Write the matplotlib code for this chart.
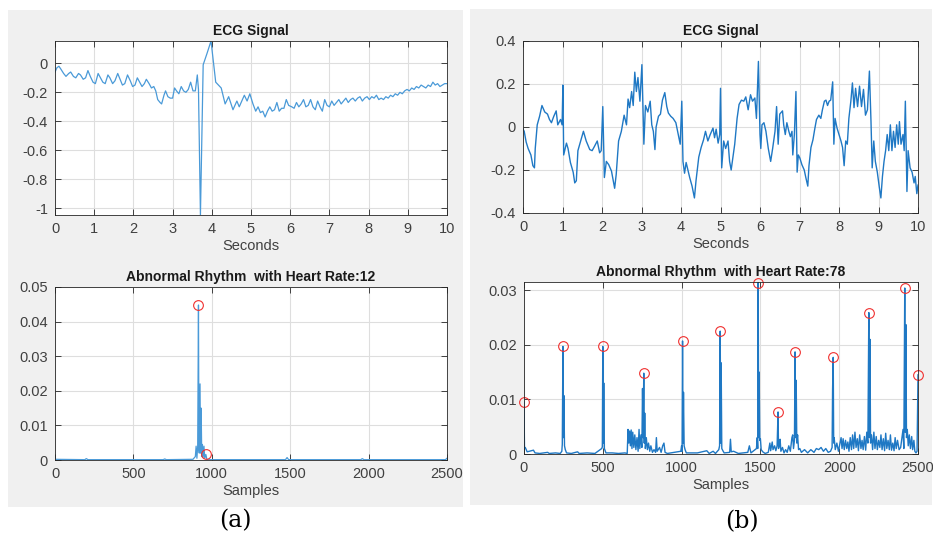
import numpy as np
import matplotlib
matplotlib.use("Agg")
from matplotlib import pyplot as plt
from matplotlib.patches import Rectangle
from matplotlib.ticker import FuncFormatter

# ---- (a) ECG signal, seconds / amplitude
ecg_a_t = [0.00, 0.05, 0.10, 0.15, 0.22, 0.28, 0.35, 0.40, 0.47, 0.53, 0.60, 0.65, 0.72, 0.78,
           0.84, 0.90, 0.97, 1.03, 1.10, 1.16, 1.22, 1.28, 1.35, 1.40, 1.47, 1.53, 1.60, 1.66,
           1.72, 1.78, 1.85, 1.92, 1.98, 2.04, 2.10, 2.16, 2.22, 2.28, 2.33, 2.40, 2.46, 2.52,
           2.57, 2.62, 2.68, 2.72, 2.78, 2.82, 2.88, 2.94, 3.00, 3.05, 3.10, 3.16, 3.22, 3.28,
           3.34, 3.40, 3.46, 3.52, 3.58, 3.63, 3.66, 3.71, 3.74, 3.78, 3.88, 3.98, 4.10, 4.17,
           4.24, 4.34, 4.43, 4.54, 4.64, 4.70, 4.83, 4.90, 4.97, 5.05, 5.12, 5.18, 5.24, 5.30,
           5.36, 5.42, 5.48, 5.54, 5.60, 5.66, 5.72, 5.78, 5.84, 5.90, 5.96, 6.04, 6.10, 6.16,
           6.22, 6.28, 6.34, 6.40, 6.46, 6.52, 6.58, 6.64, 6.70, 6.76, 6.82, 6.88, 6.94, 7.00,
           7.06, 7.12, 7.18, 7.24, 7.30, 7.36, 7.42, 7.48, 7.54, 7.60, 7.66, 7.72, 7.78, 7.84,
           7.90, 7.96, 8.02, 8.08, 8.14, 8.20, 8.26, 8.32, 8.38, 8.44, 8.50, 8.56, 8.62, 8.68,
           8.74, 8.80, 8.86, 8.92, 8.98, 9.04, 9.10, 9.16, 9.22, 9.28, 9.34, 9.40, 9.46, 9.52,
           9.58, 9.64, 9.70, 9.76, 9.82, 9.88, 9.94, 10.0]
ecg_a_v = [-0.06, -0.03, -0.02, -0.04, -0.07, -0.09, -0.07, -0.06, -0.09, -0.10, -0.07, -0.08, -0.11, -0.10,
           -0.05, -0.09, -0.13, -0.14, -0.07, -0.10, -0.13, -0.14, -0.08, -0.10, -0.14, -0.12, -0.07, -0.11,
           -0.15, -0.14, -0.08, -0.12, -0.16, -0.15, -0.10, -0.13, -0.16, -0.14, -0.11, -0.14, -0.17, -0.16,
           -0.19, -0.25, -0.27, -0.28, -0.22, -0.19, -0.23, -0.24, -0.24, -0.17, -0.19, -0.21, -0.16, -0.19,
           -0.20, -0.18, -0.13, -0.19, -0.19, -0.08, -0.18, -1.046, -0.60, -0.01, 0.07, 0.154, -0.13, -0.15,
           -0.17, -0.28, -0.23, -0.32, -0.26, -0.30, -0.22, -0.26, -0.21, -0.28, -0.33, -0.30, -0.34, -0.33,
           -0.37, -0.33, -0.30, -0.33, -0.32, -0.27, -0.33, -0.31, -0.31, -0.25, -0.29, -0.30, -0.31, -0.27,
           -0.30, -0.28, -0.25, -0.30, -0.29, -0.25, -0.30, -0.32, -0.26, -0.30, -0.33, -0.25, -0.29, -0.30,
           -0.26, -0.29, -0.27, -0.25, -0.28, -0.26, -0.24, -0.27, -0.25, -0.24, -0.26, -0.24, -0.23, -0.26,
           -0.24, -0.23, -0.25, -0.23, -0.24, -0.22, -0.25, -0.24, -0.25, -0.23, -0.24, -0.22, -0.23, -0.21,
           -0.22, -0.20, -0.21, -0.19, -0.18, -0.19, -0.17, -0.18, -0.16, -0.17, -0.15, -0.16, -0.17, -0.15,
           -0.16, -0.13, -0.15, -0.14, -0.16, -0.15, -0.14, -0.14]

# ---- (b) ECG signal
ecg_b_t = [0.00, 0.03, 0.08, 0.13, 0.20, 0.25, 0.29, 0.31, 0.36, 0.42, 0.48, 0.55, 0.62, 0.67, 0.72,
           0.78, 0.84, 0.88, 0.95, 0.99, 1.01, 1.03, 1.10, 1.14, 1.20, 1.27, 1.31, 1.35, 1.39, 1.46,
           1.53, 1.60, 1.69, 1.75, 1.81, 1.88, 1.94, 1.98, 2.02, 2.06, 2.11, 2.17, 2.24, 2.32, 2.36,
           2.42, 2.49, 2.56, 2.62, 2.66, 2.70, 2.75, 2.79, 2.83, 2.87, 2.91, 2.96, 3.01, 3.06, 3.10,
           3.16, 3.22, 3.26, 3.30, 3.34, 3.37, 3.43, 3.48, 3.53, 3.59, 3.64, 3.68, 3.74, 3.80, 3.87,
           3.93, 3.98, 4.02, 4.05, 4.09, 4.13, 4.18, 4.22, 4.28, 4.34, 4.38, 4.45, 4.51, 4.57, 4.62,
           4.68, 4.74, 4.81, 4.85, 4.89, 4.94, 4.98, 5.00, 5.03, 5.08, 5.13, 5.19, 5.23, 5.27, 5.31,
           5.36, 5.42, 5.47, 5.53, 5.59, 5.64, 5.70, 5.76, 5.81, 5.87, 5.91, 5.96, 6.00, 6.02, 6.05,
           6.10, 6.15, 6.21, 6.27, 6.32, 6.38, 6.42, 6.46, 6.50, 6.57, 6.60, 6.64, 6.68, 6.73, 6.77,
           6.81, 6.83, 6.87, 6.91, 6.94, 6.97, 7.01, 7.06, 7.12, 7.16, 7.21, 7.24, 7.29, 7.34, 7.39,
           7.43, 7.49, 7.54, 7.58, 7.63, 7.67, 7.71, 7.75, 7.79, 7.84, 7.87, 7.90, 7.95, 8.00, 8.05,
           8.09, 8.13, 8.17, 8.21, 8.25, 8.30, 8.34, 8.38, 8.42, 8.47, 8.52, 8.57, 8.62, 8.67, 8.72,
           8.77, 8.81, 8.84, 8.88, 8.92, 8.97, 9.02, 9.06, 9.10, 9.14, 9.18, 9.22, 9.26, 9.30, 9.34,
           9.38, 9.42, 9.46, 9.50, 9.53, 9.57, 9.62, 9.65, 9.68, 9.72, 9.75, 9.80, 9.85, 9.90, 9.93,
           9.97, 10.0]
ecg_b_v = [-0.01, -0.02, -0.07, -0.10, -0.13, -0.18, -0.19, -0.10, 0.01, 0.05, 0.10, 0.07, 0.06, 0.035, 0.02,
           0.05, 0.075, 0.01, 0.035, 0.01, 0.195, -0.13, -0.075, -0.10, -0.165, -0.21, -0.26, -0.25, -0.11, -0.065,
           -0.02, -0.065, -0.105, -0.11, -0.09, -0.065, -0.12, -0.11, 0.095, -0.235, -0.16, -0.175, -0.205, -0.285, -0.22,
           -0.065, -0.02, 0.055, 0.01, 0.13, 0.09, 0.165, 0.10, 0.255, 0.165, 0.23, 0.12, 0.29, -0.08, 0.10,
           0.07, 0.12, 0.01, -0.02, -0.105, 0.00, 0.05, 0.06, 0.125, 0.16, 0.095, 0.065, 0.05, 0.04, 0.02,
           -0.035, -0.08, 0.12, -0.16, -0.215, -0.165, -0.205, -0.235, -0.275, -0.33, -0.25, -0.14, -0.095, -0.06, -0.02,
           -0.065, -0.035, -0.005, -0.05, -0.01, -0.075, -0.035, 0.18, -0.19, -0.065, -0.10, -0.065, -0.16, -0.20, -0.145,
           -0.08, 0.04, 0.105, 0.125, 0.12, 0.14, 0.08, 0.15, 0.12, 0.135, 0.04, 0.305, -0.035, -0.10, 0.01,
           0.02, -0.02, -0.10, -0.16, -0.10, -0.02, 0.095, -0.08, 0.06, 0.075, 0.01, -0.035, 0.02, -0.02, -0.045,
           -0.02, -0.13, -0.035, 0.165, -0.21, -0.13, -0.145, -0.175, -0.20, -0.235, -0.275, -0.18, -0.095, -0.06, -0.005,
           0.035, 0.055, 0.04, 0.08, 0.12, 0.125, 0.10, 0.12, 0.125, 0.21, -0.08, 0.04, -0.005, -0.035, -0.065,
           -0.095, -0.18, -0.065, -0.08, 0.04, 0.12, 0.205, 0.09, 0.18, 0.095, 0.19, 0.095, 0.175, 0.055, 0.08,
           0.26, 0.025, -0.19, -0.065, -0.16, -0.21, -0.28, -0.33, -0.23, -0.16, -0.11, -0.035, -0.11, 0.01, -0.11,
           -0.02, -0.095, 0.01, -0.08, 0.025, -0.08, -0.035, -0.11, 0.12, -0.30, -0.11, -0.19, -0.21, -0.26, -0.23,
           -0.31, -0.27]

# ---- (a) detection output, samples
det_a_n = [0, 190, 200, 210, 690, 700, 710, 880, 895, 900, 905, 910, 915, 918, 920, 925, 928, 932,
           936, 940, 945, 950, 955, 962, 968, 975, 1470, 1480, 1490, 1950, 1960, 1970, 2490, 2500]
det_a_v = [0.0002, 0.0001, 0.0004, 0.0001, 0.0001, 0.0003, 0.0001, 0.0002, 0.001, 0.004, 0.0005,
           0.004, 0.0448, 0.003, 0.002, 0.022, 0.002, 0.015, 0.001, 0.0045, 0.0008, 0.004, 0.0005,
           0.0016, 0.0003, 0.0001, 0.0001, 0.0007, 0.0001, 0.0001, 0.0004, 0.0001, 0.0001, 0.0005]
peaks_a_n = [915, 962]
peaks_a_v = [0.0448, 0.0016]

# ---- (b) detection output, samples
det_b_n = [0, 3, 8, 20, 60, 70, 100, 150, 160, 200, 230, 240, 243, 247, 250, 253, 257, 262, 270,
           300, 340, 350, 400, 450, 493, 497, 500, 503, 506, 510, 520, 560, 600, 640, 655, 660, 665,
           670, 675, 680, 685, 690, 697, 703, 710, 717, 724, 730, 735, 742, 748, 752, 756, 760, 763,
           766, 770, 776, 783, 790, 798, 805, 815, 825, 835, 840, 845, 860, 870, 880, 888, 895, 910,
           995, 1000, 1003, 1006, 1009, 1012, 1016, 1022, 1030, 1100, 1160, 1175, 1200, 1215,
           1236, 1241, 1245, 1248, 1251, 1255, 1262, 1270, 1305, 1310, 1315, 1330, 1360, 1420, 1430,
           1440, 1475, 1480, 1483, 1486, 1489, 1492, 1496, 1500, 1505, 1515, 1530, 1550, 1560, 1565,
           1575, 1580, 1590, 1598, 1606, 1612, 1615, 1620, 1625, 1630, 1640, 1650, 1660, 1670, 1680,
           1690, 1700, 1705, 1710, 1716, 1720, 1723, 1727, 1731, 1736, 1742, 1750, 1760, 1780, 1800,
           1820, 1840, 1855, 1870, 1885, 1900, 1915, 1930, 1945, 1955, 1958, 1962, 1965, 1968, 1975,
           1985, 1995, 2005, 2012, 2018, 2025, 2032, 2040, 2048, 2055, 2062, 2070, 2078, 2085, 2092,
           2100, 2107, 2115, 2122, 2130, 2138, 2145, 2152, 2160, 2168, 2175, 2182, 2188, 2191, 2195,
           2199, 2205, 2212, 2220, 2227, 2235, 2242, 2250, 2258, 2265, 2272, 2280, 2288, 2295, 2302,
           2310, 2318, 2325, 2332, 2340, 2348, 2355, 2362, 2370, 2380, 2390, 2400, 2405, 2410, 2416,
           2419, 2423, 2427, 2432, 2438, 2445, 2452, 2460, 2466, 2474, 2480, 2487, 2494, 2500]
det_b_v = [0.0095, 0.001, 0.0012, 0.0004, 0.0007, 0.0002, 0.0001, 0.0003, 0.0001, 0.0002, 0.0001,
           0.0005, 0.0018, 0.0197, 0.003, 0.0107, 0.0015, 0.0008, 0.0002, 0.0001, 0.0004, 0.0001,
           0.0002, 0.0001, 0.001, 0.0013, 0.0197, 0.002, 0.013, 0.001, 0.0002, 0.0002, 0.0001, 0.0002,
           0.0001, 0.0045, 0.002, 0.0042, 0.0015, 0.0044, 0.001, 0.004, 0.0012, 0.0035, 0.0008, 0.003,
           0.0005, 0.0045, 0.001, 0.0035, 0.0012, 0.012, 0.003, 0.0148, 0.002, 0.0075, 0.001, 0.003,
           0.0008, 0.002, 0.0005, 0.0015, 0.0003, 0.0008, 0.0003, 0.003, 0.0005, 0.0012, 0.0003, 0.0015,
           0.002, 0.0003, 0.0001, 0.0005, 0.0015, 0.0005, 0.0207, 0.002, 0.0113, 0.0015, 0.0008, 0.0002,
           0.0002, 0.0006, 0.0001, 0.0005, 0.0001, 0.0008, 0.0015, 0.0225, 0.002, 0.0167, 0.001, 0.0006,
           0.0002, 0.0003, 0.0027, 0.0004, 0.0005, 0.0001, 0.0003, 0.0015, 0.0002, 0.001, 0.003, 0.001,
           0.0314, 0.003, 0.015, 0.0025, 0.0028, 0.0008, 0.0004, 0.0001, 0.0003, 0.002, 0.0006, 0.0022,
           0.0008, 0.0015, 0.0006, 0.0015, 0.0077, 0.001, 0.0015, 0.0027, 0.0005, 0.0012, 0.0002, 0.0008,
           0.0003, 0.0015, 0.0005, 0.003, 0.0035, 0.001, 0.0025, 0.0187, 0.003, 0.0135, 0.002, 0.0035,
           0.0008, 0.001, 0.0003, 0.0008, 0.0002, 0.0008, 0.0003, 0.001, 0.0008, 0.0012, 0.0005, 0.001,
           0.0003, 0.0005, 0.0012, 0.0118, 0.0177, 0.002, 0.003, 0.0008, 0.002, 0.0005, 0.002, 0.003,
           0.001, 0.0028, 0.0008, 0.0025, 0.001, 0.0022, 0.0005, 0.003, 0.0008, 0.0035, 0.001, 0.004,
           0.0012, 0.0028, 0.0006, 0.0035, 0.001, 0.0025, 0.0008, 0.0032, 0.0007, 0.004, 0.002, 0.0259,
           0.003, 0.021, 0.002, 0.0035, 0.0008, 0.004, 0.001, 0.0032, 0.0008, 0.0025, 0.0012, 0.0035,
           0.0008, 0.0028, 0.0006, 0.0038, 0.001, 0.0025, 0.0008, 0.0035, 0.0007, 0.002, 0.0006, 0.003,
           0.001, 0.0025, 0.0008, 0.0012, 0.0035, 0.0045, 0.001, 0.0304, 0.004, 0.0237, 0.003, 0.0045,
           0.0015, 0.0035, 0.001, 0.0032, 0.0008, 0.0025, 0.0005, 0.0002, 0.0005, 0.0145]
peaks_b_n = [0, 247, 500, 760, 1006, 1245, 1486, 1612, 1720, 1962, 2188, 2416, 2500]
peaks_b_v = [0.0095, 0.0197, 0.0197, 0.0148, 0.0207, 0.0225, 0.0314, 0.0077, 0.0187, 0.0177,
             0.0259, 0.0304, 0.0145]

plt.rcParams['font.family'] = ['Liberation Sans', 'DejaVu Sans']

W, H = 933, 540
fig = plt.figure(figsize=(W / 100, H / 100), dpi=100)
fig.patch.set_facecolor('white')

# grey MATLAB figure backgrounds, kept behind the axes
for x0, y0, x1, y1 in [(8, 10, 463, 507), (470, 9, 932, 505)]:
    fig.patches.append(Rectangle((x0 / W, 1 - y1 / H), (x1 - x0) / W, (y1 - y0) / H,
                                 transform=fig.transFigure, facecolor='#f0f0f0',
                                 edgecolor='none', zorder=-10))


def make_axes(x0, y0, x1, y1):
    ax = fig.add_axes([x0 / W, 1 - y1 / H, (x1 - x0) / W, (y1 - y0) / H])
    ax.set_facecolor('white')
    ax.grid(True, color='#dedede', linewidth=0.8)
    ax.set_axisbelow(True)
    ax.tick_params(direction='in', top=True, right=True, length=4, width=0.6,
                   colors='#262626', labelsize=10.5, labelcolor='#404040', pad=5)
    for s in ax.spines.values():
        s.set_color('#262626')
        s.set_linewidth(0.6)
    ax.yaxis.set_major_formatter(FuncFormatter(lambda v, p: '%g' % round(v, 6)))
    return ax


title_kw = dict(fontsize=10, fontweight='bold', color='#1a1a1a', pad=4)
label_kw = dict(fontsize=10.5, color='#404040', labelpad=2)
circle_kw = dict(markerfacecolor='none', markeredgecolor='#f0302f', markersize=7,
                 markeredgewidth=0.8, clip_on=False)

# (a) top
ax = make_axes(55, 41, 447, 215)
ax.plot(ecg_a_t, ecg_a_v, color='#4a9ad8', linewidth=0.9)
ax.set_xlim(0, 10)
ax.set_ylim(-1.046, 0.154)
ax.set_xticks(range(0, 11))
ax.set_yticks([-1, -0.8, -0.6, -0.4, -0.2, 0])
ax.set_title('ECG Signal', **title_kw)
ax.set_xlabel('Seconds', **label_kw)

# (a) bottom
ax = make_axes(55, 287, 447, 460)
ax.plot(det_a_n, det_a_v, color='#4a9ad8', linewidth=0.9)
ax.plot(peaks_a_n, peaks_a_v, 'o', **circle_kw)
ax.set_xlim(0, 2500)
ax.set_ylim(0, 0.05)
ax.set_xticks(range(0, 2501, 500))
ax.set_yticks([0, 0.01, 0.02, 0.03, 0.04, 0.05])
ax.set_title('Abnormal Rhythm  with Heart Rate:12', **title_kw)
ax.set_xlabel('Samples', **label_kw)

# (b) top
ax = make_axes(523, 41, 918, 213)
ax.plot(ecg_b_t, ecg_b_v, color='#1f78c4', linewidth=1.0)
ax.set_xlim(0, 10)
ax.set_ylim(-0.4, 0.4)
ax.set_xticks(range(0, 11))
ax.set_yticks([-0.4, -0.2, 0, 0.2, 0.4])
ax.set_title('ECG Signal', **title_kw)
ax.set_xlabel('Seconds', **label_kw)

# (b) bottom
ax = make_axes(524, 282, 918, 454)
ax.plot(det_b_n, det_b_v, color='#1f78c4', linewidth=1.0)
ax.plot(peaks_b_n, peaks_b_v, 'o', **circle_kw)
ax.set_xlim(0, 2500)
ax.set_ylim(0, 0.0315)
ax.set_xticks(range(0, 2501, 500))
ax.set_yticks([0, 0.01, 0.02, 0.03])
ax.set_title('Abnormal Rhythm  with Heart Rate:78', **title_kw)
ax.set_xlabel('Samples', **label_kw)

fig.text(235 / W, 1 - 521 / H, '(a)', fontsize=17, family='DejaVu Serif',
         ha='center', va='center', color='#000000')
fig.text(742 / W, 1 - 522 / H, '(b)', fontsize=17, family='DejaVu Serif',
         ha='center', va='center', color='#000000')

fig.savefig('out.png', dpi=100)
